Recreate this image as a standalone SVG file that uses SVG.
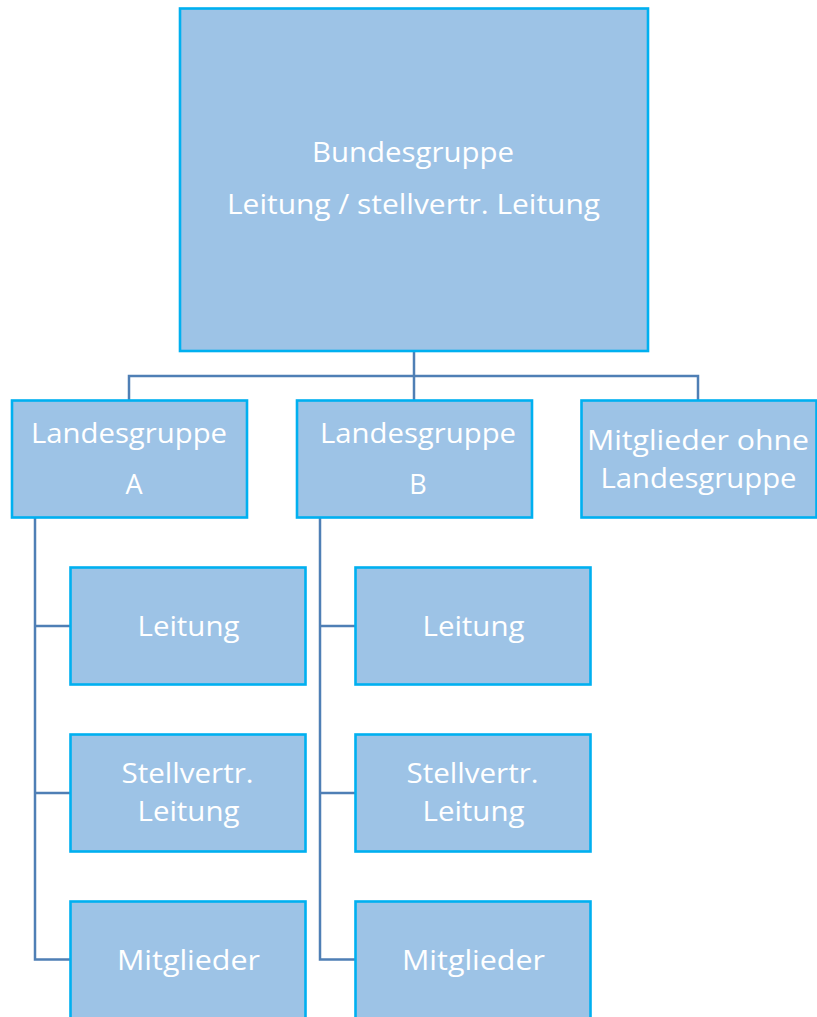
<svg xmlns="http://www.w3.org/2000/svg" width="817" height="1017" viewBox="0 0 817 1017">
<style>
.box{fill:#9DC3E6;stroke:#00B0F0;stroke-width:2.6}
.t{font-family:"Open Sans","Liberation Sans",sans-serif;fill:#FFFFFF;font-size:27px;text-anchor:middle}
.c{fill:none;stroke:#4F7FB5;stroke-width:2.5}
</style>
<rect width="817" height="1017" fill="#FFFFFF"/>
<g id="connectors">
<path class="c" d="M414,351 V376 M129,400 V376 H698 V400 M414,376 V400"/>
<path class="c" d="M35,518 V959.5 H70 M35,626 H70 M35,793 H70"/>
<path class="c" d="M320,518 V959.5 H355 M320,626 H355 M320,793 H355"/>
</g>
<g id="bundesgruppe">
<rect class="box" x="180" y="8.5" width="468" height="342.5"/>
<text class="t" x="413" y="162" textLength="202" lengthAdjust="spacingAndGlyphs">Bundesgruppe</text>
<text class="t" x="413.5" y="214" textLength="373" lengthAdjust="spacingAndGlyphs">Leitung / stellvertr. Leitung</text>
</g>
<g id="landesgruppe-a">
<rect class="box" x="12" y="400.5" width="235" height="117"/>
<text class="t" x="129" y="443" textLength="196" lengthAdjust="spacingAndGlyphs">Landesgruppe</text>
<text class="t" x="134" y="494">A</text>
</g>
<g id="landesgruppe-b">
<rect class="box" x="297" y="400.5" width="235" height="117"/>
<text class="t" x="418" y="443" textLength="196" lengthAdjust="spacingAndGlyphs">Landesgruppe</text>
<text class="t" x="418" y="494">B</text>
</g>
<g id="mitglieder-ohne">
<rect class="box" x="581.5" y="400.5" width="235" height="117"/>
<text class="t" x="698" y="450" textLength="222" lengthAdjust="spacingAndGlyphs">Mitglieder ohne</text>
<text class="t" x="698.5" y="488" textLength="196" lengthAdjust="spacingAndGlyphs">Landesgruppe</text>
</g>
<g id="a-leitung">
<rect class="box" x="70.5" y="567.5" width="235" height="117"/>
<text class="t" x="188.5" y="636" textLength="102" lengthAdjust="spacingAndGlyphs">Leitung</text>
</g>
<g id="a-stellvertr">
<rect class="box" x="70.5" y="734.5" width="235" height="117"/>
<text class="t" x="187.5" y="783" textLength="132" lengthAdjust="spacingAndGlyphs">Stellvertr.</text>
<text class="t" x="188.5" y="821" textLength="102" lengthAdjust="spacingAndGlyphs">Leitung</text>
</g>
<g id="a-mitglieder">
<rect class="box" x="70.5" y="901.5" width="235" height="130"/>
<text class="t" x="188.5" y="970" textLength="143" lengthAdjust="spacingAndGlyphs">Mitglieder</text>
</g>
<g id="b-leitung">
<rect class="box" x="355.5" y="567.5" width="235" height="117"/>
<text class="t" x="473.5" y="636" textLength="102" lengthAdjust="spacingAndGlyphs">Leitung</text>
</g>
<g id="b-stellvertr">
<rect class="box" x="355.5" y="734.5" width="235" height="117"/>
<text class="t" x="472.5" y="783" textLength="132" lengthAdjust="spacingAndGlyphs">Stellvertr.</text>
<text class="t" x="473.5" y="821" textLength="102" lengthAdjust="spacingAndGlyphs">Leitung</text>
</g>
<g id="b-mitglieder">
<rect class="box" x="355.5" y="901.5" width="235" height="130"/>
<text class="t" x="473.5" y="970" textLength="143" lengthAdjust="spacingAndGlyphs">Mitglieder</text>
</g>
</svg>
